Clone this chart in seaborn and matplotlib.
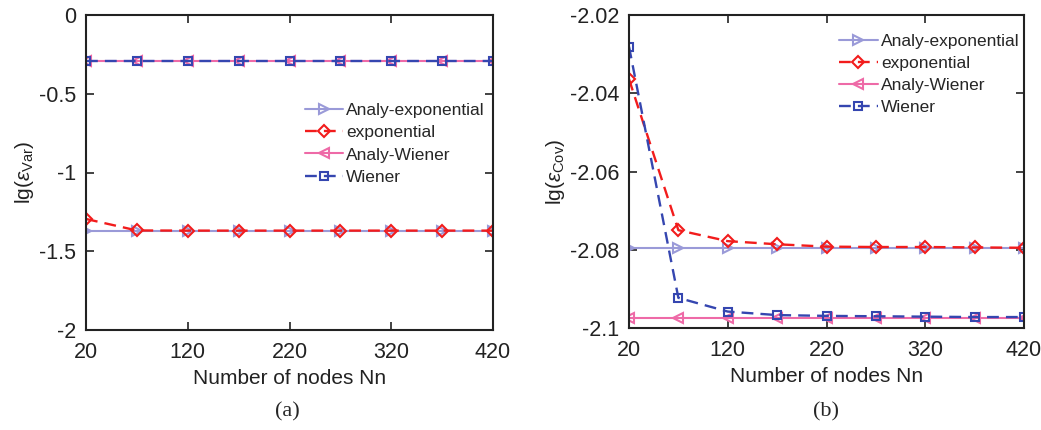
import numpy as np
import pandas as pd
import matplotlib
matplotlib.use("Agg")
import matplotlib.pyplot as plt
import seaborn as sns
from matplotlib.ticker import FuncFormatter

nodes = [20, 70, 120, 170, 220, 270, 320, 370, 420]

# Panel (a): lg(eps_Var)
var_analy_exp = [-1.370] * 9
var_exp = [-1.295, -1.368, -1.369, -1.369, -1.369, -1.369, -1.369, -1.369, -1.369]
var_analy_wiener = [-0.292] * 9
var_wiener = [-0.292] * 9

# Panel (b): lg(eps_Cov)
cov_analy_exp = [-2.0796] * 9
cov_exp = [-2.0364, -2.0750, -2.0778, -2.0786, -2.0792, -2.0793, -2.0793, -2.0794, -2.0795]
cov_analy_wiener = [-2.0974] * 9
cov_wiener = [-2.0281, -2.0923, -2.0958, -2.0967, -2.0969, -2.0970, -2.0971, -2.0972, -2.0972]

series_names = ["Analy-exponential", "exponential", "Analy-Wiener", "Wiener"]
colors = ["#9a9ad8", "#f21c1c", "#ee6aa7", "#3546b0"]
markers = [">", "D", "<", "s"]
linestyles = ["-", (0, (5, 3)), "-", (0, (5, 3))]
msizes = [7, 6.5, 7, 5.5]
lwidths = [1.5, 1.7, 1.5, 1.7]

sns.set_style("ticks")
plt.rcParams["font.family"] = ["Liberation Sans", "DejaVu Sans"]
plt.rcParams["axes.unicode_minus"] = False
plt.rcParams["mathtext.fontset"] = "custom"
plt.rcParams["mathtext.rm"] = "Liberation Sans"
plt.rcParams["mathtext.it"] = "Liberation Sans:italic"
plt.rcParams["mathtext.fallback"] = "cm"

fig = plt.figure(figsize=(10.41, 4.30), dpi=100)
W, H = 1041, 430
axA = fig.add_axes([86 / W, 1 - 330 / H, (493 - 86) / W, (330 - 15) / H])
axB = fig.add_axes([629 / W, 1 - 328 / H, (1024 - 629) / W, (328 - 15) / H])


def draw(ax, data):
    for name, vals, c, m, ls, ms, lw in zip(series_names, data, colors, markers, linestyles, msizes, lwidths):
        df = pd.DataFrame({"x": nodes, "y": vals})
        sns.lineplot(data=df, x="x", y="y", ax=ax, color=c, marker=m, linestyle=ls,
                     markersize=ms, markerfacecolor="none", markeredgecolor=c,
                     markeredgewidth=1.5, linewidth=lw, label=name)
    ax.set_xlim(20, 420)
    ax.set_xticks([20, 120, 220, 320, 420])
    ax.set_xlabel("Number of nodes Nn", fontsize=15, color="#222222", labelpad=4)
    ax.tick_params(direction="in", labelsize=15.5, top=True, right=True, length=6, width=1.2,
                   colors="#222222")
    ax.tick_params(axis="x", pad=9)
    ax.tick_params(axis="y", pad=7)
    for s in ax.spines.values():
        s.set_linewidth(1.5)
        s.set_color("#222222")


leg_kw = dict(loc="upper left", frameon=False, fontsize=12.5, handlelength=2.2,
              handletextpad=0.2, labelspacing=0.4, borderaxespad=0)

draw(axA, [var_analy_exp, var_exp, var_analy_wiener, var_wiener])
axA.set_ylim(-2, 0)
axA.set_yticks([-2, -1.5, -1, -0.5, 0])
axA.yaxis.set_major_formatter(FuncFormatter(lambda v, p: f"{v:g}"))
axA.set_ylabel(r"lg($\epsilon_{\mathrm{Var}}$)", fontsize=15, color="#222222", labelpad=2)
axA.legend(bbox_to_anchor=(0.52, 0.742), **leg_kw)

draw(axB, [cov_analy_exp, cov_exp, cov_analy_wiener, cov_wiener])
axB.set_ylim(-2.1, -2.02)
axB.set_yticks([-2.1, -2.08, -2.06, -2.04, -2.02])
axB.yaxis.set_major_formatter(FuncFormatter(lambda v, p: f"{v:g}"))
axB.set_ylabel(r"lg($\epsilon_{\mathrm{Cov}}$)", fontsize=15, color="#222222", labelpad=2)
axB.legend(bbox_to_anchor=(0.515, 0.962), **leg_kw)

fig.text(287 / W, 1 - 412 / H, "(a)", ha="center", va="center", fontsize=16,
         family="Liberation Serif")
fig.text(826 / W, 1 - 412 / H, "(b)", ha="center", va="center", fontsize=16,
         family="Liberation Serif")

fig.savefig("out.png", dpi=100, facecolor="white")
